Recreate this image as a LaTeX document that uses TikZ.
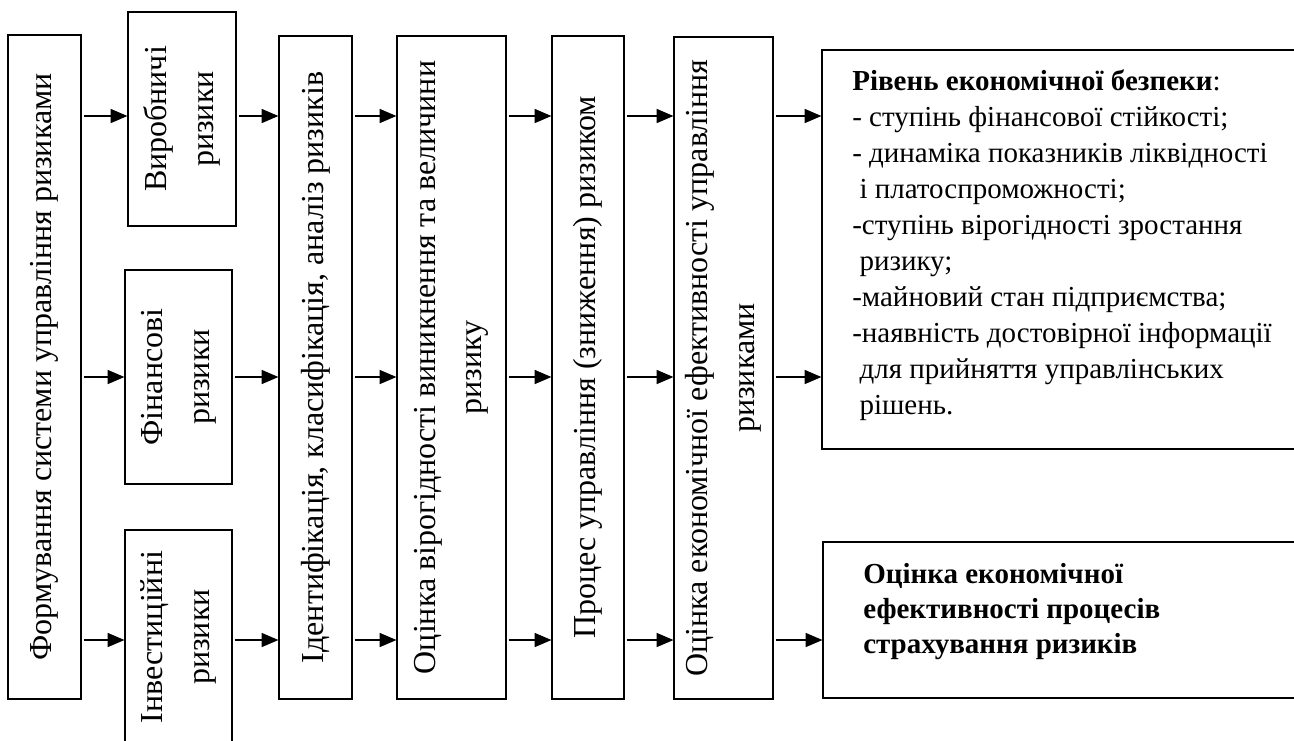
\documentclass[tikz,border=0pt]{standalone}
\usepackage{fontspec}
\setmainfont{Liberation Serif}
\usetikzlibrary{arrows.meta,fit}
\begin{document}
\begin{tikzpicture}[x=0.75pt,y=-0.75pt,
  box/.style={draw, line width=0.9pt, inner sep=0pt},
  vtext/.style={rotate=90, align=center, font=\fontsize{24}{35}\selectfont, inner sep=0pt},
  arr/.style={-{Triangle[length=12.5pt,width=10.5pt]}, line width=0.9pt, shorten <=1.5pt},
  rtext/.style={align=left, font=\fontsize{21.75}{27}\selectfont, inner sep=0pt, anchor=north west}]
\useasboundingbox (0,0) rectangle (1294,740);
\clip (0,0) rectangle (1294,740);
% boxes
\node[box, fit={(8,35) (81,699)}] (L) {};
\node[box, fit={(128,12) (236,226)}] (V1) {};
\node[box, fit={(125,270) (232,484)}] (V2) {};
\node[box, fit={(125,530) (232,760)}] (V3) {};
\node[box, fit={(279,36) (352,699)}] (I) {};
\node[box, fit={(397,36) (506,699)}] (O1) {};
\node[box, fit={(552,36) (624,699)}] (P) {};
\node[box, fit={(674,37) (773,699)}] (O2) {};
\node[box, fit={(822,50) (1320,449)}] (R1) {};
\node[box, fit={(823,542) (1320,698)}] (R2) {};
% texts
\node[vtext] (Lt) at (L.center) {Формування системи управління ризиками};
\node[vtext] (V1t) at (V1.center) {Виробничі\\ризики};
\node[vtext] (V2t) at (V2.center) {Фінансові\\ризики};
\node[vtext] (V3t) at (125+53.5,637) {Інвестиційні\\ризики};
\node[vtext] (It) at (I.center) {Ідентифікація, класифікація, аналіз ризиків};
\node[vtext] (O1t) at (O1.center) {Оцінка вірогідності виникнення та величини\\ризику};
\node[vtext] (Pt) at (P.center) {Процес управління (зниження) ризиком};
\node[vtext] (O2t) at (O2.center) {Оцінка економічної ефективності управління\\ризиками};
\node[rtext] (R1t) at (852,69) {\textbf{Рівень економічної безпеки}:\\
- ступінь фінансової стійкості;\\
- динаміка показників ліквідності\\
\hspace*{0.25em}і платоспроможності;\\
-ступінь вірогідності зростання\\
\hspace*{0.25em}ризику;\\
-майновий стан підприємства;\\
-наявність достовірної інформації\\
\hspace*{0.25em}для прийняття управлінських\\
\hspace*{0.25em}рішень.};
\node[rtext, font=\fontsize{21.75}{26.25}\selectfont\bfseries] (R2t) at (863,563) {Оцінка економічної\\ефективності процесів\\страхування ризиків};
% rows
\coordinate (r1) at (0,116);
\coordinate (r2) at (0,377);
\coordinate (r3) at (0,640);
% arrows
\draw[arr] (L.east |- r1) -- (V1.west |- r1);
\draw[arr] (L.east |- r2) -- (V2.west |- r2);
\draw[arr] (L.east |- r3) -- (V3.west |- r3);
\draw[arr] (V1.east |- r1) -- (I.west |- r1);
\draw[arr] (V2.east |- r2) -- (I.west |- r2);
\draw[arr] (V3.east |- r3) -- (I.west |- r3);
\draw[arr] (I.east |- r1) -- (O1.west |- r1);
\draw[arr] (I.east |- r2) -- (O1.west |- r2);
\draw[arr] (I.east |- r3) -- (O1.west |- r3);
\draw[arr] (O1.east |- r1) -- (P.west |- r1);
\draw[arr] (O1.east |- r2) -- (P.west |- r2);
\draw[arr] (O1.east |- r3) -- (P.west |- r3);
\draw[arr] (P.east |- r1) -- (O2.west |- r1);
\draw[arr] (P.east |- r2) -- (O2.west |- r2);
\draw[arr] (P.east |- r3) -- (O2.west |- r3);
\draw[arr] (O2.east |- r1) -- (R1.west |- r1);
\draw[arr] (O2.east |- r2) -- (R1.west |- r2);
\draw[arr] (O2.east |- r3) -- (R2.west |- r3);
\end{tikzpicture}
\end{document}
